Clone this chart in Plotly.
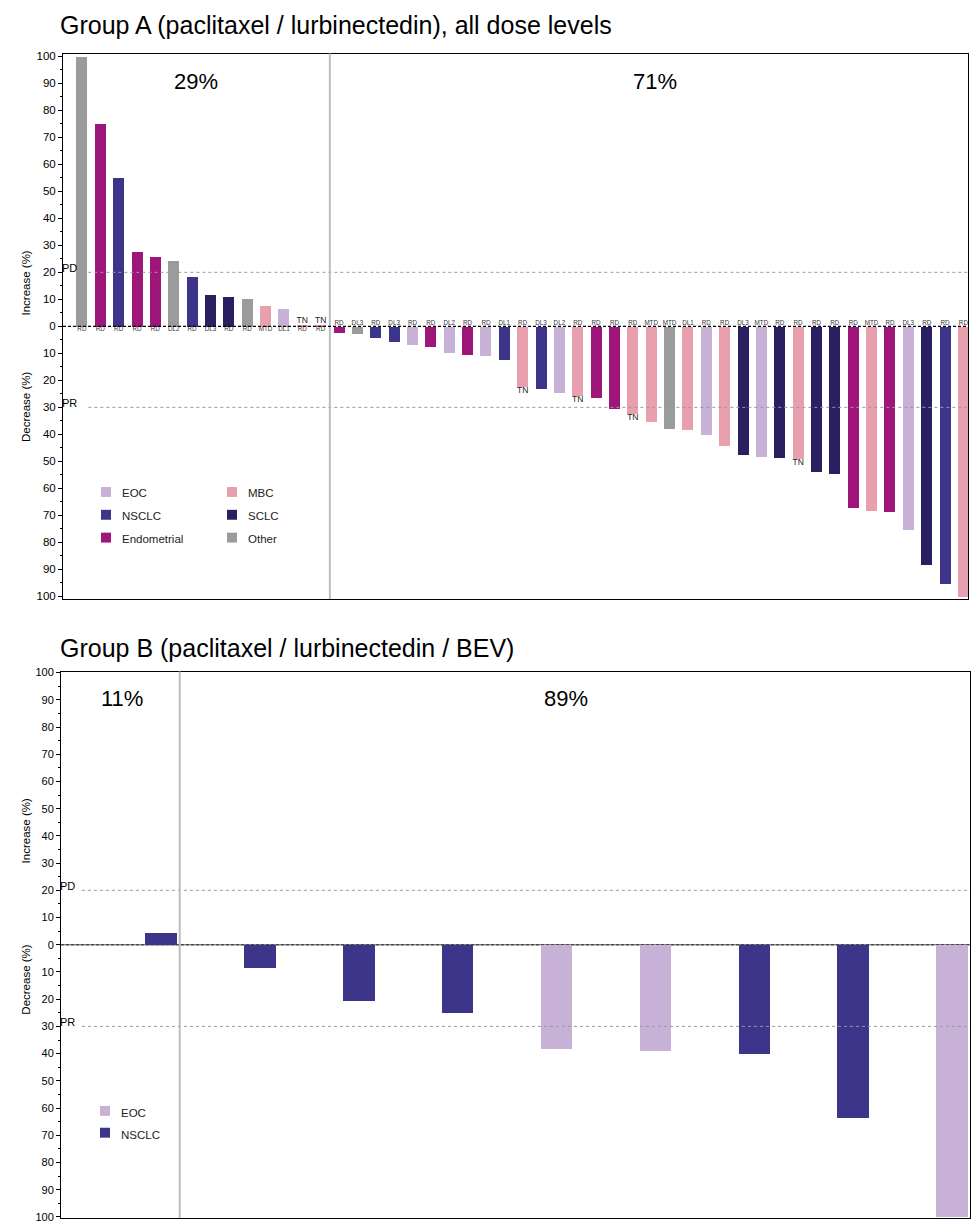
import plotly.graph_objects as go

W, H = 974, 1223

# ---------------- data ----------------
a_types = ["Other", "Endometrial", "NSCLC", "Endometrial", "Endometrial", "Other", "NSCLC",
           "SCLC", "SCLC", "Other", "MBC", "EOC", "MBC", "MBC",
           "Endometrial", "Other", "NSCLC", "NSCLC", "EOC", "Endometrial", "EOC", "Endometrial",
           "EOC", "NSCLC", "MBC", "NSCLC", "EOC", "MBC", "Endometrial", "Endometrial", "MBC",
           "MBC", "Other", "MBC", "EOC", "MBC", "SCLC", "EOC", "SCLC", "MBC", "SCLC", "SCLC",
           "Endometrial", "MBC", "Endometrial", "EOC", "SCLC", "NSCLC", "MBC"]
a_change = [100, 75, 55, 27.7, 26, 24.2, 18.3, 11.8, 11, 10.2, 7.8, 6.6, 0.3, 0.3,
            -2.3, -2.8, -4.3, -5.5, -6.6, -7.5, -9.8, -10.3, -10.7, -12.2, -22.3, -23.2,
            -24.6, -25.5, -26.3, -30.6, -32.2, -35.1, -37.9, -38.3, -40.2, -44, -47.4,
            -48.1, -48.6, -49, -53.6, -54.5, -67, -68.2, -68.6, -75.3, -88.1, -95.2, -100]
a_dose = ["RD", "RD", "RD", "RD", "RD", "DL2", "RD", "DL3", "RD", "RD", "MTD", "DL1", "RD", "RD",
          "RD", "DL3", "RD", "DL3", "RD", "RD", "DL2", "RD", "RD", "DL1", "RD", "DL3", "DL2",
          "RD", "RD", "RD", "RD", "MTD", "MTD", "DL1", "RD", "RD", "DL3", "MTD", "RD", "RD",
          "RD", "RD", "RD", "MTD", "RD", "DL3", "RD", "RD", "RD"]
a_note = ["", "", "", "", "", "", "", "", "", "", "", "", "TN", "TN",
          "", "", "", "", "", "", "", "", "", "", "TN", "", "", "TN", "", "", "TN",
          "", "", "", "", "", "", "", "", "TN", "", "", "", "", "", "", "", "", ""]
a_pct = ["29%", "71%"]
a_legend = ["EOC", "MBC", "NSCLC", "SCLC", "Endometrial", "Other"]

b_types = ["NSCLC", "NSCLC", "NSCLC", "NSCLC", "EOC", "EOC", "NSCLC", "NSCLC", "EOC"]
b_change = [4.6, -8.5, -20.6, -25, -38.2, -38.9, -40, -63.3, -100]
b_pct = ["11%", "89%"]
b_legend = ["EOC", "NSCLC"]

y_ticks = list(range(-100, 101, 10))
y_ticktext = [str(abs(v)) for v in y_ticks]

# ---------------- style ----------------
COLORS = {"EOC": "#C8B1D6", "NSCLC": "#3D358A", "Endometrial": "#9E1679",
          "MBC": "#E8A0AE", "SCLC": "#282060", "Other": "#9B9B9B"}
FONT = "Liberation Sans, Arial, sans-serif"


def px(x):
    return x / W


def py(y):
    return 1 - y / H


fig = go.Figure()

# Group A bars
xa = list(range(len(a_change)))
fig.add_trace(go.Bar(x=xa, y=a_change, width=0.6,
                     marker=dict(color=[COLORS[t] for t in a_types], line=dict(width=0)),
                     xaxis="x", yaxis="y", showlegend=False, hoverinfo="y"))
fig.add_trace(go.Scatter(x=xa, y=[0] * len(xa), mode="text", text=a_dose,
                         textposition=["bottom center" if v > 0 else "top center" for v in a_change],
                         textfont=dict(size=6.3, color="#333333", family=FONT),
                         xaxis="x", yaxis="y", showlegend=False, hoverinfo="skip"))
fig.add_trace(go.Scatter(x=xa, y=a_change, mode="text", text=a_note,
                         textposition=["top center" if v > 0 else "bottom center" for v in a_change],
                         textfont=dict(size=8.5, color="#222222", family=FONT),
                         xaxis="x", yaxis="y", showlegend=False, hoverinfo="skip"))

# Group B bars
xb = list(range(len(b_change)))
fig.add_trace(go.Bar(x=xb, y=b_change, width=0.32,
                     marker=dict(color=[COLORS[t] for t in b_types], line=dict(width=0)),
                     xaxis="x2", yaxis="y2", showlegend=False, hoverinfo="y"))

n_left_a = sum(1 for v in a_change if v > 0)
n_left_b = sum(1 for v in b_change if v > 0)
sep_a = n_left_a - 0.5
sep_b = n_left_b - 1 + 0.19

axis_common = dict(showline=True, mirror=True, linecolor="black", linewidth=1, zeroline=False,
                   showgrid=False)
fig.update_layout(
    width=W, height=H, margin=dict(l=0, r=0, t=0, b=0),
    paper_bgcolor="white", plot_bgcolor="white",
    font=dict(family=FONT, color="black"),
    bargap=0,
    xaxis=dict(domain=[px(63), px(968)], range=[-1.03, 48.25], showticklabels=False, ticks="",
               anchor="y", **axis_common),
    yaxis=dict(domain=[py(599), py(49)], range=[-101, 101], tickvals=y_ticks, ticktext=y_ticktext,
               ticks="outside", ticklen=4, tickcolor="black", tickfont=dict(size=11.5),
               minor=dict(dtick=5, ticks="outside", ticklen=2, tickcolor="black"),
               anchor="x", **axis_common),
    xaxis2=dict(domain=[px(61), px(970)], range=[-1.01, 8.18], showticklabels=False, ticks="",
                anchor="y2", **axis_common),
    yaxis2=dict(domain=[0, py(672)], range=[-100.4, 100.4], tickvals=y_ticks, ticktext=y_ticktext,
                ticks="outside", ticklen=4, tickcolor="black", tickfont=dict(size=11),
                ticklabeloverflow="allow",
                minor=dict(dtick=5, ticks="outside", ticklen=2, tickcolor="black"),
                anchor="x2", **axis_common),
)

shapes = []
annotations = []

for xr, yr, sep, x0line in (("x", "y", sep_a, 0.028), ("x2", "y2", sep_b, 0.023)):
    for lvl in (20, -30):
        shapes.append(dict(type="line", xref=xr + " domain", yref=yr, x0=x0line, x1=1, y0=lvl, y1=lvl,
                           line=dict(color="#999999", width=1, dash="dot")))
    shapes.append(dict(type="line", xref=xr, yref=yr + " domain", x0=sep, x1=sep, y0=0, y1=1,
                       line=dict(color="#BDBDBD", width=2)))
    annotations.append(dict(text="PD", xref=xr + " domain", yref=yr, x=-0.003, y=21.5,
                            xanchor="left", yanchor="middle", showarrow=False, font=dict(size=11)))
    annotations.append(dict(text="PR", xref=xr + " domain", yref=yr, x=-0.003, y=-28.5,
                            xanchor="left", yanchor="middle", showarrow=False, font=dict(size=11)))

shapes.append(dict(type="line", xref="x domain", yref="y", x0=0, x1=1, y0=0, y1=0,
                   line=dict(color="black", width=1.2, dash="3px,2px")))
shapes.append(dict(type="line", xref="x2 domain", yref="y2", x0=0, x1=1, y0=0, y1=0, layer="below",
                   line=dict(color="#8A8A8A", width=1.5)))
shapes.append(dict(type="line", xref="x2 domain", yref="y2", x0=0, x1=1, y0=0, y1=0, layer="below",
                   line=dict(color="#333333", width=1, dash="3px,2px")))

# percentages
annotations.append(dict(text=a_pct[0], xref="x", yref="y", x=(-1.03 + sep_a) / 2, y=90.5,
                        showarrow=False, font=dict(size=22)))
annotations.append(dict(text=a_pct[1], xref="x", yref="y", x=31.2, y=90.5,
                        showarrow=False, font=dict(size=22)))
annotations.append(dict(text=b_pct[0], xref="x2", yref="y2", x=-0.39, y=90.3,
                        showarrow=False, font=dict(size=22)))
annotations.append(dict(text=b_pct[1], xref="x2", yref="y2", x=4.1, y=90.3,
                        showarrow=False, font=dict(size=22)))

# titles
annotations.append(dict(text="Group A (paclitaxel / lurbinectedin), all dose levels", xref="paper",
                        yref="paper", x=px(58), y=py(20), xanchor="left", yanchor="middle",
                        showarrow=False, font=dict(size=25)))
annotations.append(dict(text="Group B (paclitaxel / lurbinectedin / BEV)", xref="paper",
                        yref="paper", x=px(58), y=py(648), xanchor="left", yanchor="middle",
                        showarrow=False, font=dict(size=25)))

# y-axis side titles
for txt, yc in (("Increase (%)", 246), ("Decrease (%)", 368), ("Increase (%)", 868),
                ("Decrease (%)", 1020)):
    annotations.append(dict(text=txt, xref="paper", yref="paper", x=px(18), y=py(yc),
                            textangle=-90, showarrow=False, font=dict(size=11.5)))

# legends (manual, two columns for A)
leg_a_pos = [(106, 491), (232, 491), (106, 514), (232, 514), (106, 537), (232, 537)]
for name, (cx, cy) in zip(a_legend, leg_a_pos):
    shapes.append(dict(type="rect", xref="paper", yref="paper", x0=px(cx - 5), x1=px(cx + 5),
                       y0=py(cy + 5), y1=py(cy - 5), fillcolor=COLORS[name], line=dict(width=0)))
    annotations.append(dict(text=name, xref="paper", yref="paper", x=px(cx + 14), y=py(cy + 1.5),
                            xanchor="left", yanchor="middle", showarrow=False,
                            font=dict(size=11.5, color="#222222")))
leg_b_pos = [(105, 1115), (105, 1137)]
for name, (cx, cy) in zip(b_legend, leg_b_pos):
    shapes.append(dict(type="rect", xref="paper", yref="paper", x0=px(cx - 5), x1=px(cx + 5),
                       y0=py(cy + 5), y1=py(cy - 5), fillcolor=COLORS[name], line=dict(width=0)))
    annotations.append(dict(text=name, xref="paper", yref="paper", x=px(cx + 14), y=py(cy + 2),
                            xanchor="left", yanchor="middle", showarrow=False,
                            font=dict(size=11.5, color="#222222")))

fig.update_layout(shapes=shapes, annotations=annotations)
fig.write_html("out.html", config={"displayModeBar": False},
               post_script="document.body.style.margin='0';document.body.style.overflow='hidden';")
